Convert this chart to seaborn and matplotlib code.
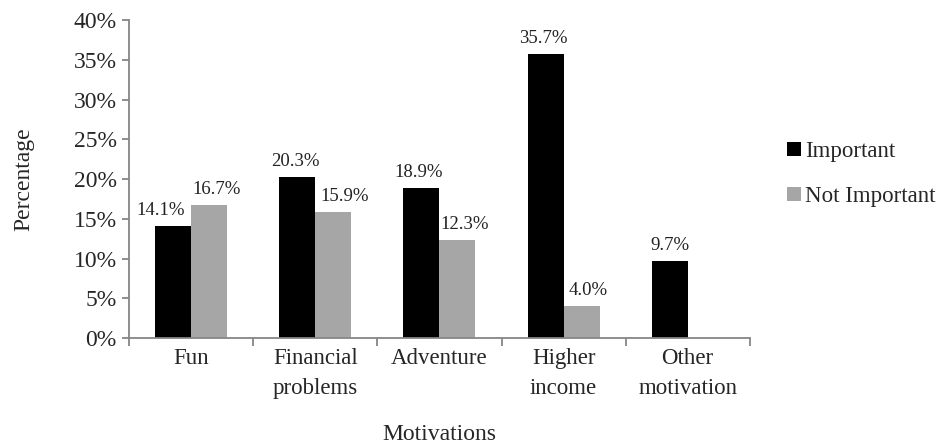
import matplotlib.pyplot as plt
import matplotlib.ticker as mticker
import pandas as pd
import seaborn as sns

# values (percent)
motivations = ["Fun", "Financial\nproblems", "Adventure", "Higher\nincome", "Other\nmotivation"]
important = [14.1, 20.3, 18.9, 35.7, 9.7]
not_important = [16.7, 15.9, 12.3, 4.0, 0.0]
groups = ["Important", "Not Important"]

df = pd.DataFrame({
    "Motivations": motivations * 2,
    "Percentage": important + not_important,
    "group": [groups[0]] * len(motivations) + [groups[1]] * len(motivations),
})

sns.set_style("white")
plt.rcParams["font.family"] = ["Liberation Serif", "DejaVu Serif"]

fig = plt.figure(figsize=(9.36, 4.46), dpi=100)
ax = fig.add_axes([0.138, 0.242, 0.663, 0.713])

sns.barplot(data=df, x="Motivations", y="Percentage", hue="group",
            palette=["#000000", "#a6a6a6"], width=0.58, saturation=1,
            linewidth=0, ax=ax, legend=True)

# excel nudges some labels sideways so they do not collide (offsets in px)
nudges = [[-13, -2, -3, -2, 0], [7, 11, 7, 7, 0]]
for cont, nx in zip(ax.containers, nudges):
    labels = [f"{v:.1f}%" if v > 0 else "" for v in cont.datavalues]
    texts = ax.bar_label(cont, labels=labels, padding=5, fontsize=13.5, color="#222222")
    for t, dx in zip(texts, nx):
        t.xyann = (dx * 0.72, t.xyann[1])

ax.set_ylim(0, 40)
ax.set_xlim(-0.5, len(motivations) - 0.5)
ax.yaxis.set_major_locator(mticker.MultipleLocator(5))
ax.yaxis.set_major_formatter(mticker.FuncFormatter(lambda v, p: f"{v:.0f}%"))

# x ticks sit on category boundaries
ax.set_xticks([i + 0.5 for i in range(-1, len(motivations))], minor=True)
ax.tick_params(axis="x", which="major", bottom=True, length=0, pad=7, labelsize=16.5)
ax.tick_params(axis="x", which="minor", bottom=True, length=6, width=1.3,
               color="#868686", direction="out")
ax.tick_params(axis="y", left=True, length=5, width=1.3, color="#868686",
               direction="out", labelsize=17, pad=4)
for lab in ax.get_xticklabels():
    lab.set_linespacing(1.55)

for s in ["top", "right"]:
    ax.spines[s].set_visible(False)
for s in ["left", "bottom"]:
    ax.spines[s].set_color("#868686")
    ax.spines[s].set_linewidth(1.3)

ax.set_xlabel("Motivations", fontsize=17, labelpad=18)
ax.set_ylabel("Percentage", fontsize=17, labelpad=28)

ax.legend(loc="center left", bbox_to_anchor=(1.027, 0.516), frameon=False,
          fontsize=16.5, handlelength=0.6, handleheight=0.6, handletextpad=0.2,
          labelspacing=1.05)

fig.savefig("out.png", dpi=100)
